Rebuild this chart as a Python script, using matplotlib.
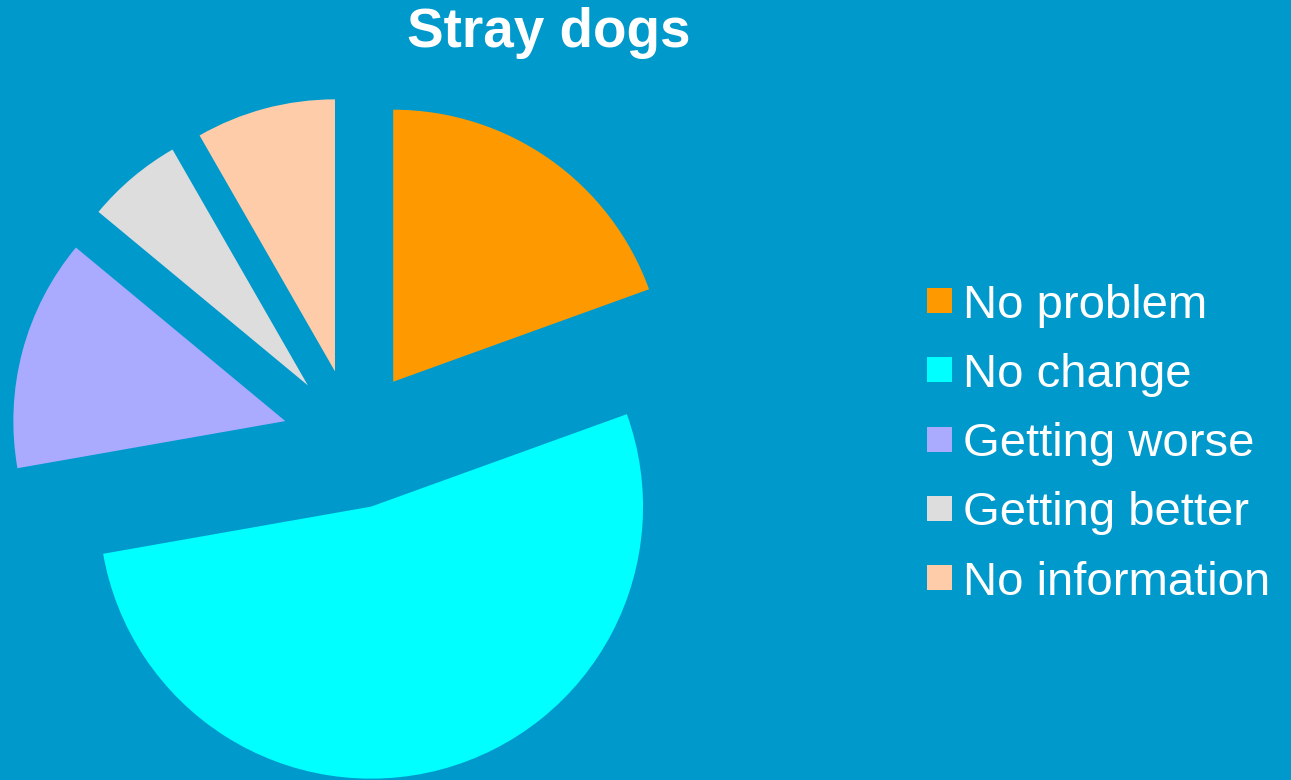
import matplotlib
matplotlib.use("Agg")
import matplotlib.pyplot as plt
from matplotlib.patches import Rectangle

labels = ["No problem", "No change", "Getting worse", "Getting better", "No information"]
values = [19.5, 52.8, 13.8, 5.7, 8.3]
colors = ["#FF9900", "#00FFFF", "#AAAAFF", "#DDDDDD", "#FFCCAA"]
bg = "#0099CC"

W, H = 1291, 780
fig = plt.figure(figsize=(W / 100, H / 100), dpi=100, facecolor=bg)
ax = fig.add_axes([0, 0, 1, 1])
ax.set_facecolor(bg)

R = 272
ax.pie(values, colors=colors, startangle=90, counterclock=False,
       radius=R, center=(353, H - 439), explode=[70] * len(values),
       wedgeprops=dict(linewidth=0))
ax.set_xlim(0, W)
ax.set_ylim(0, H)
ax.set_aspect("equal")
ax.axis("off")

ax.text(549, H - 33, "Stray dogs", ha="center", va="center", color="white",
        fontsize=39.5, fontweight="bold", family="Liberation Sans")

y0 = 300.5
step = 69.3
for i, (lab, col) in enumerate(zip(labels, colors)):
    yc = y0 + i * step
    ax.add_patch(Rectangle((927, H - yc - 12.5), 25, 25, facecolor=col, edgecolor="none"))
    ax.text(963, H - yc, lab, ha="left", va="center_baseline", color="white",
            fontsize=34, family="Liberation Sans")

fig.savefig("out.png", dpi=100, facecolor=bg)
